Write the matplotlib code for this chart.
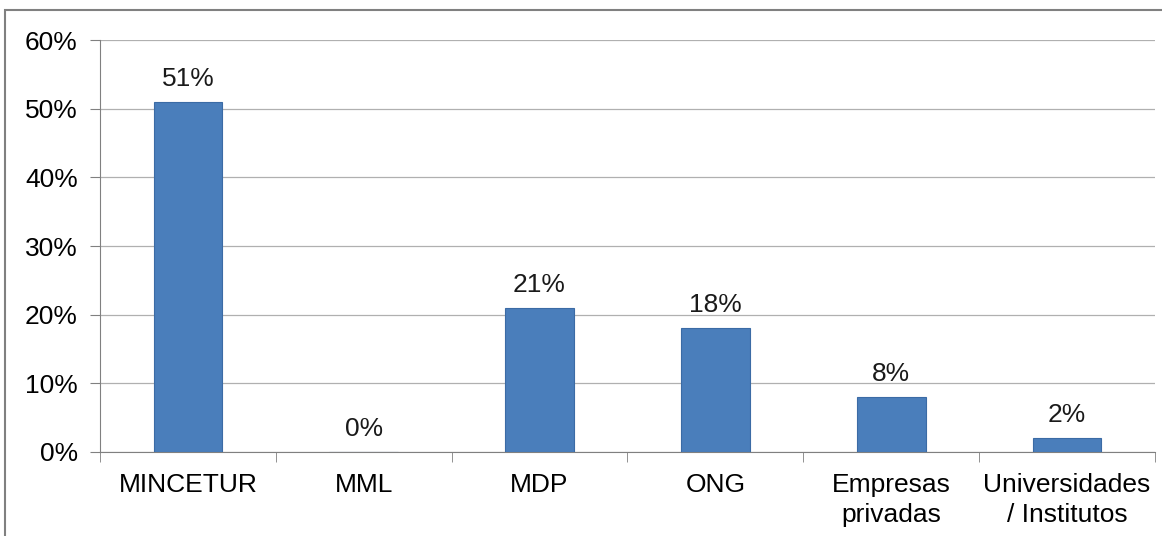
import numpy as np
import matplotlib.pyplot as plt
from matplotlib.patches import Rectangle

categories = ['MINCETUR', 'MML', 'MDP', 'ONG', 'Empresas\nprivadas', 'Universidades\n/ Institutos']
values = [51, 0, 21, 18, 8, 2]
labels = ['51%', '0%', '21%', '18%', '8%', '2%']
yticks = [0, 10, 20, 30, 40, 50, 60]

plt.rcParams['font.family'] = ['Liberation Sans', 'DejaVu Sans']
FS = 19

fig = plt.figure(figsize=(11.62, 5.36), dpi=100)
ax = fig.add_axes([0.086, 0.157, 0.908, 0.768])

# outer frame of the pasted chart
fig.patches.append(Rectangle((5 / 1162, -0.05), 1160 / 1162, 1 - 10 / 536 + 0.05,
                             transform=fig.transFigure, fill=False,
                             edgecolor='#808080', linewidth=1.5))

x = np.arange(len(categories))
ax.bar(x, values, width=0.39, color='#4A7EBB', edgecolor='#3B6BA5', linewidth=0.8, zorder=3)

for xi, v, lab in zip(x, values, labels):
    ax.text(xi, v + 1.6, lab, ha='center', va='bottom', fontsize=FS, color='#1a1a1a')

ax.set_xlim(-0.5, len(categories) - 0.5)
ax.set_ylim(0, 60)
ax.set_yticks(yticks)
ax.set_yticklabels([f'{t}%' for t in yticks], fontsize=FS)
ax.yaxis.grid(True, color='#b0b0b0', linewidth=0.9, zorder=0)

ax.set_xticks(x)
ax.set_xticklabels(categories, fontsize=FS, linespacing=1.33)
ax.set_xticks(np.arange(-0.5, len(categories)), minor=True)
ax.tick_params(axis='x', which='major', length=0, pad=15)
ax.tick_params(axis='x', which='minor', length=7, color='#808080', direction='out')
ax.tick_params(axis='y', length=7, color='#808080', pad=9)

for side in ['top', 'right']:
    ax.spines[side].set_visible(False)
ax.spines['left'].set_color('#808080')
ax.spines['bottom'].set_color('#808080')

fig.savefig('out.png', dpi=100)
